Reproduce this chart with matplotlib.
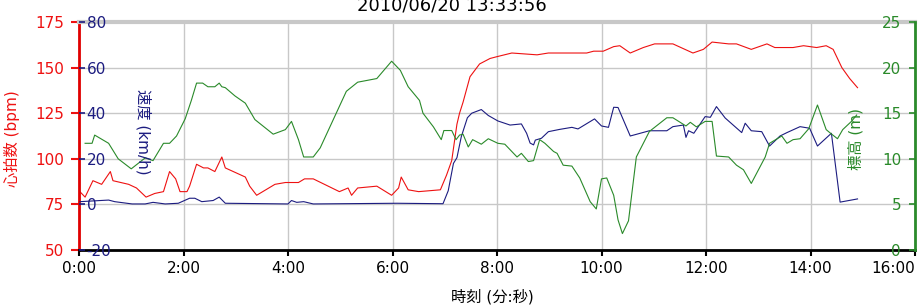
import matplotlib
matplotlib.use('Agg')
import matplotlib.pyplot as plt

plt.rcParams['font.family'] = ['DejaVu Sans', 'Noto Sans CJK JP']
plt.rcParams['axes.unicode_minus'] = False

title = '2010/06/20 13:33:56'

# heart rate (bpm) vs elapsed seconds
hr_t = [1, 7, 16, 26, 36, 39, 57, 66, 77, 87, 97, 104, 111, 116, 124, 127, 135, 143, 148, 156,
        164, 168, 191, 196, 204, 225, 237, 252, 259, 269, 299, 309, 313, 320, 342, 359, 367, 370,
        378, 390, 415, 422, 428, 434, 437, 441, 449, 460, 472, 480, 497, 526, 539, 583, 591, 602,
        614, 621, 633, 648, 661, 682, 705, 717, 727, 746, 755, 772, 790, 799, 820, 832, 847, 858,
        866, 876, 885, 894]
hr = [82, 79, 88, 86, 93, 88, 86, 84, 79, 81, 82, 93, 89, 82, 82, 85, 97, 95, 95, 93,
      101, 95, 90, 85, 80, 86, 87, 87, 89, 89, 82, 84, 80, 84, 85, 80, 84, 90,
      83, 82, 83, 91, 99, 119, 125, 131, 145, 152, 155, 156, 158, 157, 158, 158, 159, 159,
      161.5, 162, 158, 161, 163, 163, 158, 160, 164, 163, 163, 160, 163, 161, 161, 162, 161, 162,
      160, 150, 144, 139]

# speed (km/h)
spd_t = [1, 34, 41, 61, 76, 85, 99, 114, 127, 133, 141, 154, 161, 168, 240, 244, 250, 258, 269,
         365, 418, 424, 430, 434, 439, 446, 451, 462, 470, 481, 495, 508, 514, 518, 522, 524, 531,
         539, 552, 566, 573, 592, 600, 608, 614, 619, 633, 655, 675, 682, 694, 697, 700, 706, 719,
         725, 732, 742, 761, 765, 772, 784, 793, 805, 813, 828, 839, 848, 864, 874, 894]
spd = [1.2, 1.9, 1.2, 0.2, 0.2, 0.9, 0.2, 0.5, 2.7, 2.7, 1.2, 1.7, 3.2, 0.5, 0.2, 1.7, 0.9, 1.2, 0.2,
       0.5, 0.3, 6, 18, 20.5, 29.7, 38, 40, 41.6, 39, 36.6, 34.8, 35.3, 31.2, 26.9, 26.1, 28.2, 29,
       31.9, 32.9, 33.8, 33.1, 37.5, 34.4, 33.8, 42.6, 42.5, 30, 32.3, 32.3, 34.1, 34.8, 29.4, 32.3, 31.2, 38.5,
       38.2, 42.9, 37.9, 31.5, 35.6, 32.3, 31.9, 25.6, 30, 31.5, 34.1, 33.4, 25.6, 31.2, 1, 2.4]

# altitude (m)
alt_t = [7, 15, 18, 34, 45, 60, 76, 85, 97, 104, 112, 122, 129, 135, 142, 148, 156, 161, 164, 168,
         179, 191, 202, 223, 237, 244, 252, 258, 269, 277, 292, 307, 320, 342, 359, 369, 378, 391,
         395, 407, 416, 419, 428, 433, 437, 441, 447, 452, 462, 470, 481, 489, 503, 508, 516, 522,
         529, 535, 545, 549, 556, 566, 575, 587, 594, 600, 606, 614, 619, 624, 631, 640, 655, 675,
         682, 697, 702, 709, 719, 727, 732, 746, 755, 763, 772, 788, 793, 807, 813, 820, 828, 838,
         848, 858, 863, 871, 877, 887, 893]
alt = [11.7, 11.7, 12.6, 11.7, 10.0, 8.9, 10.1, 9.8, 11.7, 11.7, 12.5, 14.4, 16.4, 18.3, 18.3, 17.9, 17.9, 18.3, 17.9, 17.8,
       16.9, 16.1, 14.3, 12.7, 13.2, 14.1, 12.1, 10.2, 10.2, 11.2, 14.3, 17.4, 18.4, 18.8, 20.7, 19.7, 17.9, 16.4,
       15.0, 13.5, 12.1, 13.1, 13.1, 12.1, 12.6, 12.7, 11.3, 12.1, 11.6, 12.2, 11.7, 11.6, 10.2, 10.6, 9.7, 9.8,
       12.1, 11.7, 10.8, 10.6, 9.3, 9.2, 7.9, 5.3, 4.5, 7.8, 7.9, 6.0, 3.3, 1.8, 3.2, 10.2, 13.0, 14.5,
       14.5, 13.6, 14.0, 13.5, 14.1, 14.1, 10.3, 10.2, 9.3, 8.8, 7.3, 10.2, 11.7, 12.5, 11.7, 12.1, 12.2, 13.3,
       15.9, 13.2, 12.8, 12.2, 13.2, 14.1, 14.8]

x_ticks = [0, 120, 240, 360, 480, 600, 720, 840, 960]
x_labels = ['0:00', '2:00', '4:00', '6:00', '8:00', '10:00', '12:00', '14:00', '16:00']
hr_ticks = [50, 75, 100, 125, 150, 175]
spd_ticks = [-20, 0, 20, 40, 60, 80]
alt_ticks = [0, 5, 10, 15, 20, 25]

red = '#ee1111'
navy = '#1c1c80'
green = '#2a8a2a'

fig = plt.figure(figsize=(9.18, 3.07), dpi=100)
ax = fig.add_axes([79/918, 57/307, 836/918, 228/307])

ax.plot(hr_t, hr, color=red, lw=0.8)
ax.set_xlim(0, 960)
ax.set_ylim(50, 175)
ax.set_xticks(x_ticks)
ax.set_xticklabels(x_labels)
ax.get_xticklabels()[-1].set_ha('right')
ax.set_yticks(hr_ticks)
ax.grid(color='#c8c8c8', lw=1)
ax.set_axisbelow(True)
ax.tick_params(axis='y', direction='out', length=6, width=1.5, color=red, labelcolor=red,
               labelsize=11, pad=5)
ax.tick_params(axis='x', direction='out', length=4, width=1.5, color='black', labelsize=11, pad=4)
ax.spines['left'].set_color('#e00000')
ax.spines['left'].set_linewidth(2)
ax.spines['bottom'].set_linewidth(2)
ax.spines['top'].set_color('#c8c8c8')
ax.spines['top'].set_linewidth(3)
ax.spines['right'].set_visible(False)

# speed axis, ticks and labels inside the left edge
ax2 = ax.twinx()
ax2.plot(spd_t, spd, color=navy, lw=0.8)
ax2.set_ylim(-20, 80)
ax2.set_yticks(spd_ticks)
ax2.yaxis.set_ticks_position('left')
ax2.tick_params(axis='y', direction='in', length=4.5, width=1.2, color=navy, labelcolor=navy,
                labelsize=11, pad=-5.5)
for lab in ax2.get_yticklabels():
    lab.set_ha('left')
for s in ax2.spines.values():
    s.set_visible(False)

# altitude axis, labels inside the right edge
ax3 = ax.twinx()
ax3.plot(alt_t, alt, color=green, lw=0.8)
ax3.set_ylim(0, 25)
ax3.set_yticks(alt_ticks)
ax3.tick_params(axis='y', direction='in', length=4, width=1.2, color=green, labelcolor=green,
                labelsize=11, pad=-10)
for lab in ax3.get_yticklabels():
    lab.set_ha('right')
for k, s in ax3.spines.items():
    s.set_visible(k == 'right')
ax3.spines['right'].set_color(green)
ax3.spines['right'].set_linewidth(2)

fig.text(452/918, 1 - 11/307, title, fontsize=13, ha='center', va='baseline')
fig.text(492/918, 1 - 297/307, '時刻 (分:秒)', fontsize=11, ha='center', va='center')
fig.text(12/918, 1 - 139/307, '心拍数 (bpm)', fontsize=11, color=red, rotation=90,
         ha='center', va='center')
fig.text(143/918, 1 - 132/307, '速度 (km/h)', fontsize=11, color=navy, rotation=270,
         ha='center', va='center')
fig.text(856/918, 1 - 139/307, '標高 (m)', fontsize=11, color=green, rotation=90,
         ha='center', va='center')

fig.savefig('out.png', dpi=100)
